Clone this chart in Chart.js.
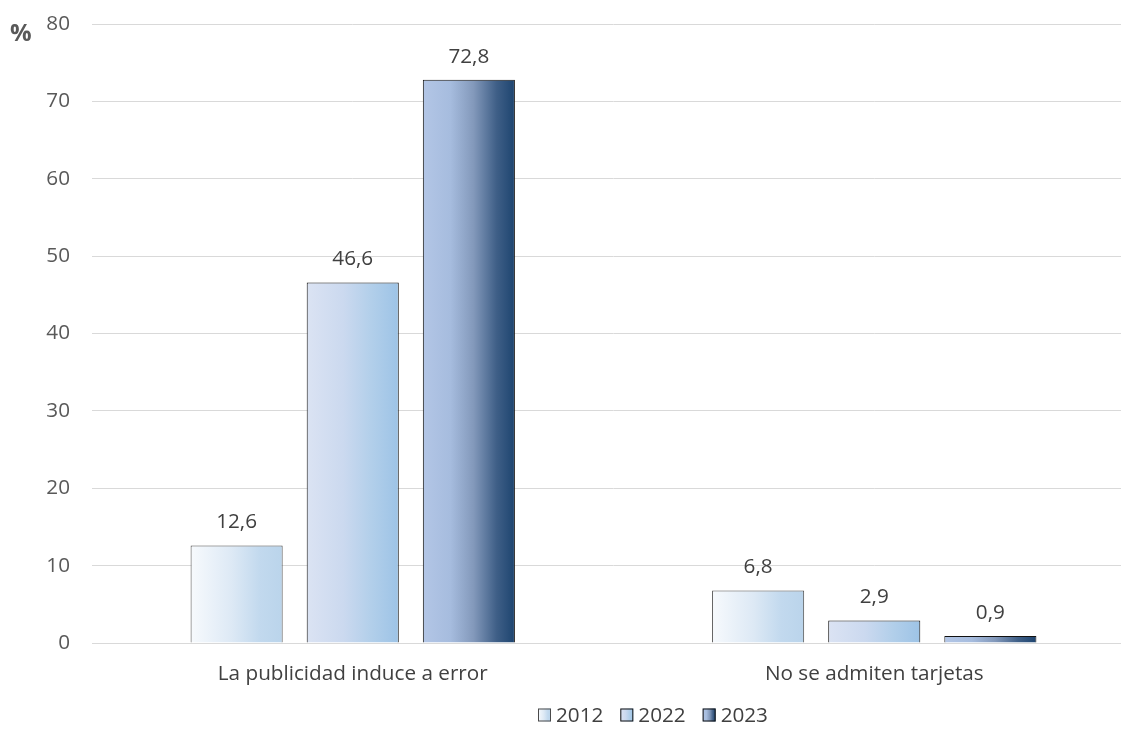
<!DOCTYPE html>
<html>
<head>
<meta charset="utf-8">
<script src="https://cdn.jsdelivr.net/npm/chart.js@4.4.1/dist/chart.umd.min.js"></script>
<style>
  html, body { margin: 0; padding: 0; background: #ffffff; overflow: hidden; }
  #wrap { width: 1121px; height: 735px; position: relative; overflow: hidden; }
  #c { position: absolute; left: 0; top: 0; }
</style>
</head>
<body>
<div id="wrap"><canvas id="c" width="1135" height="735"></canvas></div>
<script>
// Motivos de reclamación, en porcentaje
const categories = ['La publicidad induce a error', 'No se admiten tarjetas'];
const years = ['2012', '2022', '2023'];
const values2012 = [12.6, 6.8];
const values2022 = [46.6, 2.9];
const values2023 = [72.8, 0.9];
const yTicks = [0, 10, 20, 30, 40, 50, 60, 70, 80];

const FONT = "'Open Sans', 'DejaVu Sans', sans-serif";
const FS = 20.7;
const TEXT = '#404040';

// Horizontal colour ramps for each year's bars
const ramps = [
  { stops: [[0, '#f7fafd'], [0.45, '#dde9f5'], [0.75, '#c2d9ee'], [1, '#bad4eb']], border: '#4a4a4a' },
  { stops: [[0, '#dbe3f3'], [0.4, '#cbd9ef'], [0.7, '#b2cfea'], [1, '#9dc3e6']], border: '#111111' },
  { stops: [[0, '#b3c6e6'], [0.3, '#a6bcde'], [0.55, '#8399bb'], [0.8, '#3f5f87'], [1, '#1d446f']], border: '#111111' }
];

function rampGradient(ctx, x0, x1, ramp) {
  const g = ctx.createLinearGradient(x0, 0, x1, 0);
  ramp.stops.forEach(s => g.addColorStop(s[0], s[1]));
  return g;
}

const fmt = v => v.toFixed(1).replace('.', ',');

// Apply the gradients to each bar according to its drawn position
const barGradients = {
  id: 'barGradients',
  beforeDatasetsDraw(chart) {
    const ctx = chart.ctx;
    chart.data.datasets.forEach((ds, i) => {
      const meta = chart.getDatasetMeta(i);
      meta.data.forEach(el => {
        const x0 = el.x - el.width / 2, x1 = el.x + el.width / 2;
        el.options = Object.assign({}, el.options, {
          backgroundColor: rampGradient(ctx, x0, x1, ramps[i]),
          borderColor: ramps[i].border
        });
      });
    });
  }
};

// Value labels above bars, the "%" unit and the legend row
const annotations = {
  id: 'annotations',
  afterDatasetsDraw(chart) {
    const ctx = chart.ctx;
    ctx.save();
    ctx.font = FS + 'px ' + FONT;
    ctx.fillStyle = TEXT;
    ctx.textAlign = 'center';
    ctx.textBaseline = 'middle';
    chart.data.datasets.forEach((ds, i) => {
      chart.getDatasetMeta(i).data.forEach((el, j) => {
        ctx.fillText(fmt(ds.data[j]), el.x, el.y - 23);
      });
    });
    ctx.restore();
  },
  afterDraw(chart) {
    const ctx = chart.ctx;
    ctx.save();
    // unit marker
    ctx.font = 'bold 24px ' + FONT;
    ctx.fillStyle = '#595959';
    ctx.textAlign = 'left';
    ctx.textBaseline = 'middle';
    ctx.fillText('%', 10, 34);

    // legend
    ctx.font = FS + 'px ' + FONT;
    const box = 13, gapBox = 5, gapItem = 17;
    const widths = years.map(y => box + gapBox + ctx.measureText(y).width);
    let x = 538;
    const yc = 715;
    years.forEach((y, i) => {
      ctx.fillStyle = rampGradient(ctx, x, x + box, ramps[i]);
      ctx.fillRect(x, yc - box / 2, box, box);
      ctx.strokeStyle = ramps[i].border;
      ctx.lineWidth = 1;
      ctx.strokeRect(x + 0.5, yc - box / 2 + 0.5, box - 1, box - 1);
      ctx.fillStyle = TEXT;
      ctx.textBaseline = 'middle';
      ctx.fillText(y, x + box + gapBox, yc + 1);
      x += widths[i] + gapItem;
    });
    ctx.restore();
  }
};

new Chart(document.getElementById('c'), {
  type: 'bar',
  data: {
    labels: categories,
    datasets: [
      { label: years[0], data: values2012 },
      { label: years[1], data: values2022 },
      { label: years[2], data: values2023 }
    ]
  },
  options: {
    responsive: false,
    animation: false,
    devicePixelRatio: 1,
    layout: { padding: { top: 24, right: 0, bottom: 42, left: 0 } },
    datasets: {
      bar: {
        categoryPercentage: 0.668,
        barPercentage: 0.793,
        borderWidth: 1,
        borderColor: '#444444',
        backgroundColor: '#bdd7ee'
      }
    },
    plugins: {
      legend: { display: false },
      tooltip: { enabled: false }
    },
    scales: {
      x: {
        grid: { display: false, drawTicks: false },
        border: { display: true, color: '#d9d9d9', width: 1 },
        ticks: { color: TEXT, font: { family: FONT, size: FS }, padding: 19 },
        afterFit(scale) { scale.height = 50; scale.paddingLeft = 0; scale.paddingRight = 0; }
      },
      y: {
        min: 0,
        max: 80,
        afterBuildTicks(scale) { scale.ticks = yTicks.map(v => ({ value: v })); },
        grid: { color: '#d9d9d9', lineWidth: 1, drawTicks: false },
        border: { display: false },
        ticks: { color: '#595959', font: { family: FONT, size: FS }, padding: 22 },
        afterFit(scale) { scale.width = 92; scale.paddingTop = 0; scale.paddingBottom = 0; }
      }
    }
  },
  plugins: [barGradients, annotations]
});
</script>
</body>
</html>
